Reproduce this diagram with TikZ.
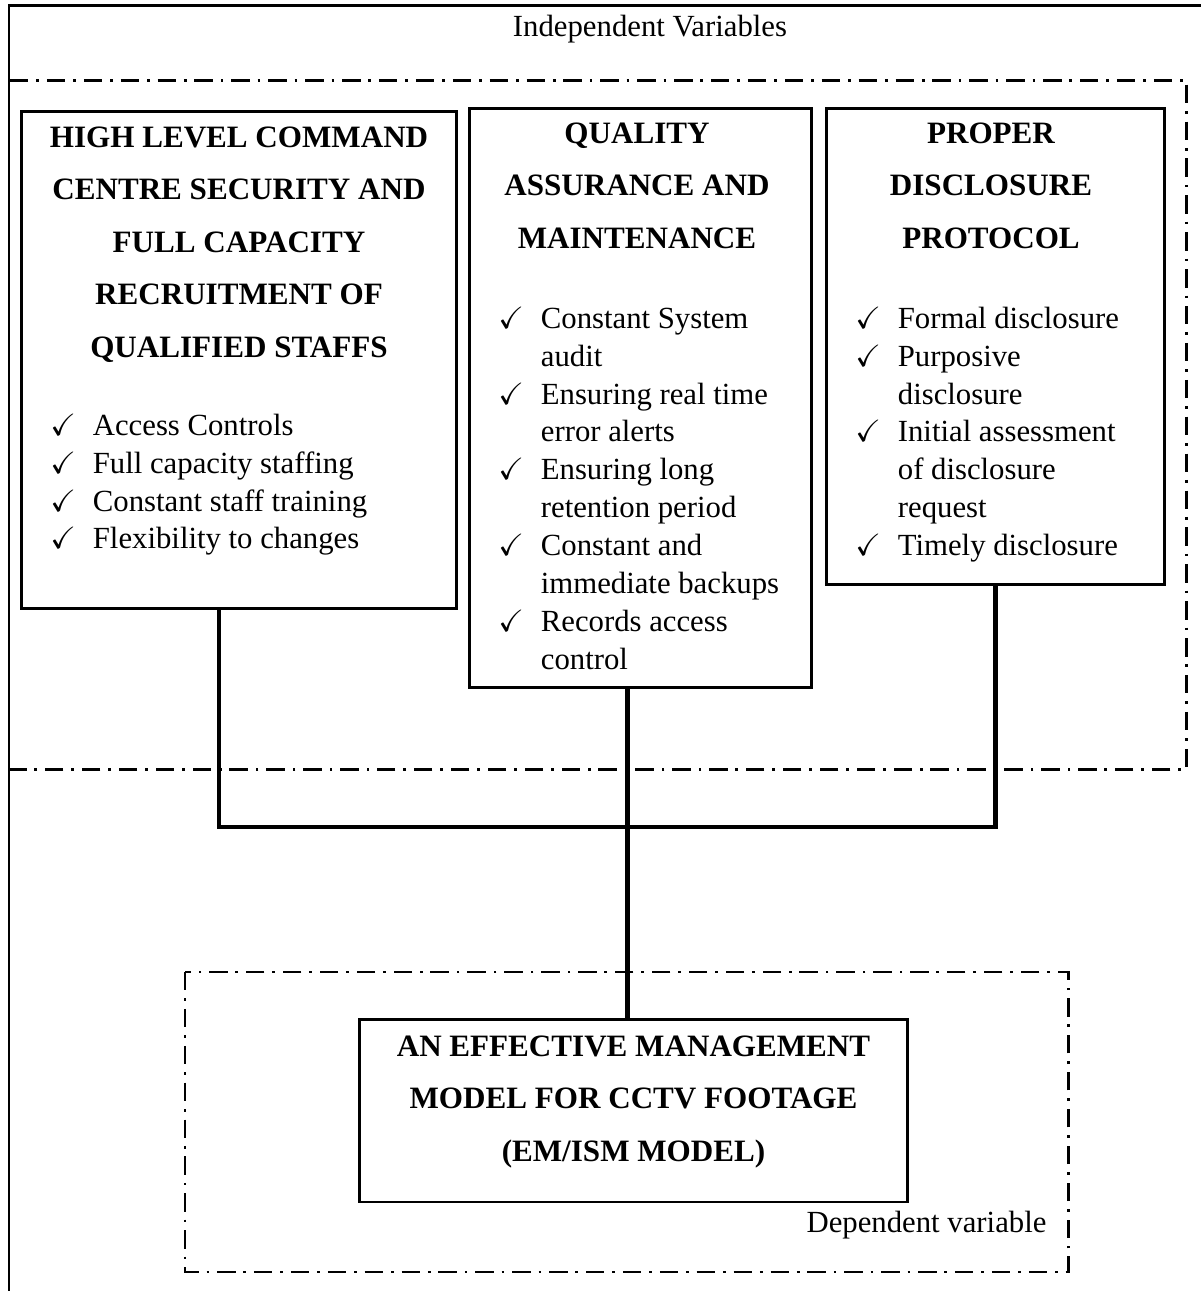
\documentclass[tikz,border=0pt]{standalone}
\usepackage{fontspec}
\setmainfont{Liberation Serif}
\usepackage{amssymb}

\newcommand{\chk}{\makebox[24.2pt][l]{$\checkmark$}}

\begin{document}
\begin{tikzpicture}[
  x=0.02cm, y=-0.02cm,
  panel/.style={draw, line width=1.7pt, inner sep=0pt},
  head/.style={anchor=north, align=center, inner sep=0pt,
               font=\fontsize{17.7}{29.9}\selectfont\bfseries},
  items/.style={anchor=north west, inner sep=0pt,
                font=\fontsize{17.5}{21.55}\selectfont},
  tag/.style={anchor=base, inner sep=0pt, font=\fontsize{17.5}{21}\selectfont},
  region/.style={line width=1.3pt, dash pattern=on 10.5pt off 4.5pt on 1.5pt off 4.5pt},
  link/.style={line width=2.6pt}
]
  \useasboundingbox (0,0) rectangle (1201,1291);

  % page frame and the two variable areas
  \draw[line width=1.2pt] (8.7,1291) -- (8.7,5.5) -- (1201,5.5);
  \draw[region] (10,80.5) -| (1186.5,769.5) -- (10,769.5);
  \draw[region] (185,972) rectangle (1068.5,1272);

  \node[tag] (iv) at (650,37)     {Independent Variables};
  \node[tag] (dv) at (926.5,1232) {Dependent variable};

  % independent variables
  \node[panel, minimum width=8.70cm, minimum height=9.94cm]  (hl) at (239,360)      {};
  \node[panel, minimum width=6.85cm, minimum height=11.59cm] (qa) at (640.25,398.25) {};
  \node[panel, minimum width=6.76cm, minimum height=9.53cm]  (pd) at (995.5,346.75) {};

  \node[head] (hl-t) at (239,126.4) {HIGH LEVEL COMMAND\\CENTRE SECURITY AND\\FULL CAPACITY\\RECRUITMENT OF\\QUALIFIED STAFFS};
  \node[head] (qa-t) at (637,122.4) {QUALITY\\ASSURANCE AND\\MAINTENANCE};
  \node[head] (pd-t) at (991,122.4) {PROPER\\DISCLOSURE\\PROTOCOL};

  \node[items] (hl-l) at (50,408.5) {\begin{tabular}{@{}l@{}l@{}}
    \chk & Access Controls\\
    \chk & Full capacity staffing\\
    \chk & Constant staff training\\
    \chk & Flexibility to changes
  \end{tabular}};
  \node[items] (qa-l) at (498,301.5) {\begin{tabular}{@{}l@{}l@{}}
    \chk & Constant System\\
         & audit\\
    \chk & Ensuring real time\\
         & error alerts\\
    \chk & Ensuring long\\
         & retention period\\
    \chk & Constant and\\
         & immediate backups\\
    \chk & Records access\\
         & control
  \end{tabular}};
  \node[items] (pd-l) at (855,301.5) {\begin{tabular}{@{}l@{}l@{}}
    \chk & Formal disclosure\\
    \chk & Purposive\\
         & disclosure\\
    \chk & Initial assessment\\
         & of disclosure\\
         & request\\
    \chk & Timely disclosure
  \end{tabular}};

  % dependent variable
  \node[panel, minimum width=10.96cm, minimum height=3.65cm] (em) at (633.5,1110.75) {};
  \node[head] (em-t) at (633.5,1035.4) {AN EFFECTIVE MANAGEMENT\\MODEL FOR CCTV FOOTAGE\\(EM/ISM MODEL)};

  % connectors
  \coordinate (joint) at (627.5,827);
  \draw[link] ([xshift=-0.4cm]hl.south) |- (joint) -| (pd.south);
  \draw[link] (qa.south -| joint) -- (em.north -| joint);
\end{tikzpicture}
\end{document}
